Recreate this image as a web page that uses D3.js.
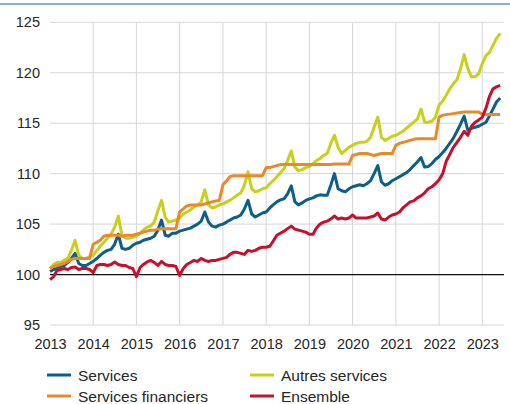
<!DOCTYPE html>
<html>
<head>
<meta charset="utf-8">
<script src="https://cdn.jsdelivr.net/npm/d3@7"></script>
<style>
  body { margin: 0; background: #fff; }
  text { font-family: "Liberation Sans", Arial, sans-serif; fill: #262626; }
  .line { fill: none; stroke-width: 3px; stroke-linejoin: round; }
</style>
</head>
<body>
<script>
// monthly index values, Jan 2013 -> Jun 2023 (2013 = 100)
var startYear = 2013;
var years = [2013, 2014, 2015, 2016, 2017, 2018, 2019, 2020, 2021, 2022, 2023];
var yTicks = [95, 100, 105, 110, 115, 120, 125];

var services = [
  100.3,100.5,100.6,100.8,100.9,101.2,101.6,102.1,101.1,100.9,100.9,101.1,
  101.3,101.6,101.9,102.2,102.4,102.5,103.0,104.0,102.6,102.5,102.6,102.9,
  103.1,103.2,103.4,103.5,103.6,103.8,104.4,105.4,103.9,103.8,104.1,104.1,
  104.3,104.4,104.5,104.6,104.8,105.0,105.3,106.2,105.2,104.8,104.7,104.9,
  105.0,105.2,105.4,105.6,105.7,105.9,106.5,107.35,106.0,105.7,105.9,106.1,
  106.2,106.6,106.9,107.2,107.4,107.5,108.0,108.8,107.2,106.9,107.1,107.35,
  107.5,107.6,107.8,107.9,107.85,107.85,108.85,110.0,108.5,108.3,108.2,108.5,
  108.7,108.8,108.9,108.8,109.0,109.3,110.0,110.8,109.2,108.85,109.0,109.3,
  109.5,109.7,109.9,110.1,110.4,110.8,111.15,111.6,110.65,110.7,111.0,111.4,
  111.7,112.1,112.5,113.0,113.5,114.2,114.9,115.7,114.3,114.5,114.6,114.7,
  114.9,115.1,115.7,116.4,117.1,117.5
];

var autresServices = [
  100.6,101.0,101.2,101.2,101.4,101.6,102.4,103.4,101.9,101.6,101.6,101.75,
  101.9,102.4,102.8,103.2,103.6,104.0,104.7,105.8,103.9,103.6,103.6,103.7,
  103.8,104.1,104.4,104.7,104.8,105.2,106.3,107.35,105.7,105.2,105.3,105.4,
  105.6,106.0,106.2,106.4,106.7,106.9,107.2,108.4,106.9,106.6,106.7,106.9,
  107.0,107.2,107.35,107.6,107.85,108.1,108.85,110.2,108.5,108.2,108.3,108.5,
  108.6,109.0,109.3,109.7,110.1,110.5,111.3,112.25,110.65,110.3,110.4,110.6,
  110.7,111.0,111.3,111.5,111.8,112.0,113.0,113.8,112.6,112.0,112.3,112.6,
  112.8,113.0,113.1,113.1,113.2,113.6,114.6,115.6,113.6,113.3,113.5,113.7,
  113.8,114.0,114.2,114.5,114.8,115.1,115.4,116.4,115.1,115.1,115.2,115.6,
  116.8,117.2,117.75,118.4,118.9,119.3,120.4,121.8,120.4,119.6,119.6,119.9,
  120.9,121.7,122.0,122.7,123.4,123.9
];

var servicesFinanciers = [
  100.6,100.8,100.9,101.0,101.1,101.3,101.5,101.6,101.6,101.6,101.6,101.6,
  103.0,103.2,103.4,103.8,103.9,103.9,103.9,103.9,103.8,103.9,103.9,103.9,
  104.0,104.1,104.2,104.3,104.4,104.4,104.5,104.55,104.55,104.55,104.55,104.55,
  106.2,106.5,106.8,106.9,106.9,106.9,106.9,107.0,107.1,107.2,107.3,107.35,
  108.9,109.3,109.7,109.8,109.8,109.8,109.8,109.8,109.8,109.8,109.8,109.8,
  110.6,110.6,110.7,110.8,110.9,110.9,110.9,110.9,110.9,110.9,110.9,110.9,
  110.9,110.9,110.9,110.9,110.9,110.9,110.9,110.95,110.95,110.95,110.95,110.95,
  111.8,111.9,112.0,112.0,112.0,111.9,111.8,111.9,112.0,112.0,112.0,112.0,
  112.8,113.0,113.1,113.2,113.3,113.4,113.45,113.45,113.45,113.45,113.45,113.45,
  115.6,115.8,115.85,115.9,115.95,116.0,116.05,116.1,116.1,116.1,116.1,116.1,
  115.9,115.85,115.85,115.85,115.85,115.85
];

var ensemble = [
  99.5,99.8,100.4,100.5,100.6,100.5,100.7,100.75,100.5,100.6,100.6,100.5,
  100.2,100.9,101.0,101.0,100.9,101.0,101.25,101.0,100.9,100.9,100.7,100.6,
  99.8,100.7,101.0,101.25,101.4,101.2,100.9,101.3,101.0,100.9,100.9,100.8,
  99.9,100.6,101.0,101.2,101.4,101.3,101.6,101.4,101.3,101.4,101.4,101.5,
  101.6,101.7,102.0,102.2,102.2,102.1,102.0,102.4,102.3,102.4,102.6,102.7,
  102.7,102.8,103.3,103.9,104.1,104.3,104.55,104.8,104.5,104.4,104.3,104.2,
  104.0,104.0,104.6,105.0,105.2,105.3,105.5,105.8,105.5,105.6,105.5,105.6,
  105.9,105.6,105.6,105.6,105.6,105.7,105.8,106.1,105.5,105.4,105.7,105.9,
  106.0,106.2,106.6,106.9,107.2,107.3,107.6,107.8,108.1,108.5,108.7,109.0,
  109.4,110.0,111.2,111.9,112.6,113.1,113.6,114.2,113.8,114.7,115.1,115.3,
  115.6,116.5,117.6,118.4,118.6,118.75
];

var colors = {
  services: "#0b5f88",
  autres: "#c9cf1b",
  financiers: "#e8892b",
  ensemble: "#c8102e"
};

// series in drawing order, legend placement by col/row
var series = [
  { key: "services", label: "Services", values: services, col: 0, row: 0 },
  { key: "autres", label: "Autres services", values: autresServices, col: 1, row: 0 },
  { key: "financiers", label: "Services financiers", values: servicesFinanciers, col: 0, row: 1 },
  { key: "ensemble", label: "Ensemble", values: ensemble, col: 1, row: 1 }
];

var width = 510;
var height = 404;

var svg = d3.select("body").append("svg")
    .attr("width", width)
    .attr("height", height);

var x = d3.scaleTime()
    .domain([new Date(2013, 0, 1), new Date(2023, 0, 1)])
    .range([50, 482.3]);
var xRight = 504;

var y = d3.scaleLinear()
    .domain([95, 125])
    .range([325, 22.3]);

function monthDate(i) {
    return new Date(startYear + Math.floor(i / 12), i % 12, 1);
}

// top rule
svg.append("line")
    .attr("x1", 0).attr("x2", width)
    .attr("y1", 4).attr("y2", 4)
    .style("stroke", "#1b5e86")
    .style("stroke-width", 1.2);

// horizontal grid
svg.append("g").selectAll("line")
    .data(yTicks).enter()
    .append("line")
    .attr("x1", 50).attr("x2", xRight)
    .attr("y1", function(d) { return y(d); })
    .attr("y2", function(d) { return y(d); })
    .style("stroke", "#d6d6d6")
    .style("stroke-width", 1);

// vertical grid (no line at first year)
svg.append("g").selectAll("line")
    .data(years.slice(1)).enter()
    .append("line")
    .attr("x1", function(d) { return x(new Date(d, 0, 1)); })
    .attr("x2", function(d) { return x(new Date(d, 0, 1)); })
    .attr("y1", y(125)).attr("y2", y(95))
    .style("stroke", "#d6d6d6")
    .style("stroke-width", 1);

// base line at 100
svg.append("line")
    .attr("x1", 50).attr("x2", xRight)
    .attr("y1", y(100)).attr("y2", y(100))
    .style("stroke", "#111")
    .style("stroke-width", 1.2);

// y axis labels
var yAxis = d3.axisLeft(y)
    .tickValues(yTicks)
    .tickSize(0)
    .tickPadding(0);
var gy = svg.append("g")
    .attr("transform", "translate(40,0)")
    .call(yAxis);
gy.select(".domain").remove();
gy.selectAll("text")
    .style("font-size", "14.5px")
    .style("font-family", "'Liberation Sans', Arial, sans-serif")
    .style("fill", "#262626");

// x axis labels
var xAxis = d3.axisBottom(x)
    .tickValues(years.map(function(d) { return new Date(d, 0, 1); }))
    .tickFormat(d3.timeFormat("%Y"))
    .tickSize(0)
    .tickPadding(0);
var gx = svg.append("g")
    .attr("transform", "translate(0,339)")
    .call(xAxis);
gx.select(".domain").remove();
gx.selectAll("text")
    .style("font-size", "14.5px")
    .style("font-family", "'Liberation Sans', Arial, sans-serif")
    .style("fill", "#262626");

// lines
var line = d3.line()
    .x(function(d, i) { return x(monthDate(i)); })
    .y(function(d) { return y(d); });

series.forEach(function(s) {
    svg.append("path")
        .datum(s.values)
        .attr("class", "line")
        .style("stroke", colors[s.key])
        .attr("d", line);
});

// legend
var legend = svg.append("g").attr("class", "legend");
var colX = [47, 250];
var rowY = [375, 396];

legend.selectAll("line")
    .data(series).enter()
    .append("line")
    .attr("x1", function(d) { return colX[d.col]; })
    .attr("x2", function(d) { return colX[d.col] + 24; })
    .attr("y1", function(d) { return rowY[d.row]; })
    .attr("y2", function(d) { return rowY[d.row]; })
    .style("stroke", function(d) { return colors[d.key]; })
    .style("stroke-width", 3);

legend.selectAll("text")
    .data(series).enter()
    .append("text")
    .attr("x", function(d) { return colX[d.col] + 31; })
    .attr("y", function(d) { return rowY[d.row] + 5.5; })
    .style("font-size", "15.5px")
    .text(function(d) { return d.label; });
</script>
</body>
</html>
